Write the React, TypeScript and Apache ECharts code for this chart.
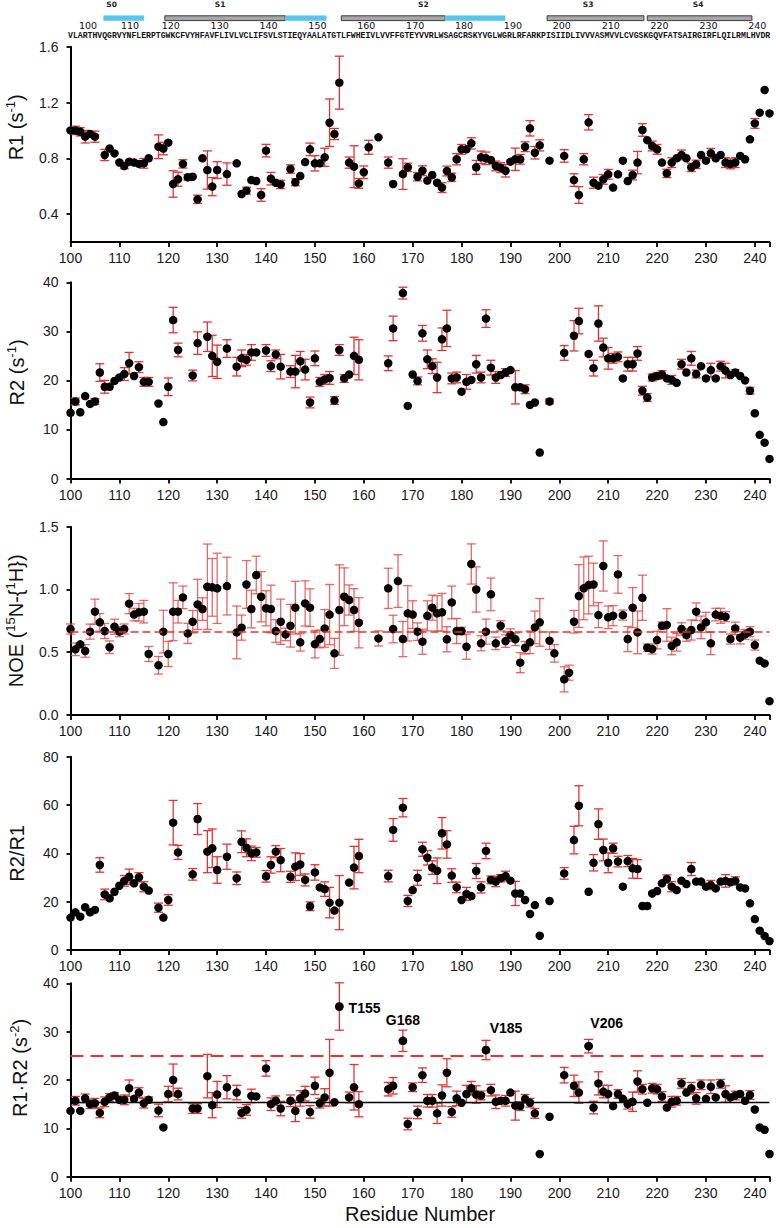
import React, { useEffect, useRef } from 'react';
import * as echarts from 'echarts';

type Pt = [number, number, number]; // [residue, value, error (0 = none)]

const SEQUENCE =
  'VLARTHVQGRVYNFLERPTGWKCFVYHFAVFLIVLVCLIFSVLSTIEQYAALATGTLFWHEIVLVVFFGTEYVVRLWSAGCRSKYVGLWGRLRFARKPISIIDLIVVVASMVVLCVGSKGQVFATSAIRGIRFLQILRMLHVDR';
const SEQ_START = 100;
const X_TICKS = [100, 110, 120, 130, 140, 150, 160, 170, 180, 190, 200, 210, 220, 230, 240];
const SEGMENT_NAMES = ['S0', 'S1', 'S2', 'S3', 'S4'];
const SEGMENT_NAME_RES = [108.4, 130.6, 172.2, 205.9, 228.4];
// [start residue, end residue, kind]
const SEGMENT_PARTS: [number, number, string][] = [
  [106.8, 115.0, 'hl'],
  [119.3, 143.9, 'tm'], [143.9, 152.3, 'hl'],
  [155.4, 176.6, 'tm'], [176.6, 188.9, 'hl'],
  [197.5, 217.3, 'tm'],
  [218.0, 239.4, 'tm'],
];
const LABELED_RESIDUES = [155, 168, 185, 206];
const NOE_REF = 0.66;
const PRODUCT_REF_DASHED = 25;
const PRODUCT_REF_SOLID = 15.3;

const R1: Pt[] = [
  [100,1.00,0],[101,1.00,0.03],[102,0.99,0.03],[103,0.955,0.045],[104,0.975,0],[105,0.955,0.04],
  [107,0.824,0.04],[108,0.87,0],[109,0.835,0],[110,0.77,0],[111,0.745,0.02],[112,0.776,0],[113,0.77,0],
  [114,0.76,0],[115,0.764,0.035],[116,0.80,0],[118,0.883,0.085],[119,0.87,0.045],[120,0.912,0],
  [121,0.616,0.095],[122,0.65,0.05],[123,0.76,0.03],[124,0.664,0.02],[125,0.668,0],[126,0.506,0.03],
  [127,0.80,0],[128,0.716,0.137],[129,0.597,0.065],[130,0.716,0.06],[132,0.687,0.08],[134,0.764,0],
  [135,0.544,0],[136,0.568,0.025],[137,0.644,0],[138,0.637,0],[139,0.537,0.045],[140,0.855,0.045],
  [141,0.654,0.045],[142,0.625,0],[143,0.613,0.03],[145,0.723,0.03],[146,0.628,0.025],[147,0.673,0],
  [148,0.773,0],[149,0.864,0.045],[150,0.764,0.055],[151,0.764,0],[152,0.807,0.065],[153,1.055,0.17],
  [154,0.974,0.04],[155,1.342,0.19],[157,0.769,0.04],[158,0.74,0.15],[159,0.62,0.035],[160,0.70,0.045],
  [161,0.879,0.05],[163,0.95,0],[165,0.769,0.04],[166,0.616,0],[168,0.687,0.11],[169,0.735,0.03],
  [171,0.668,0.03],[172,0.711,0.035],[173,0.64,0],[174,0.68,0],[175,0.625,0],[176,0.59,0.035],
  [177,0.709,0.035],[178,0.664,0.03],[179,0.793,0.04],[180,0.864,0.035],[181,0.864,0],[182,0.907,0.04],
  [183,0.735,0.05],[184,0.807,0.045],[185,0.80,0.045],[186,0.788,0],[187,0.745,0.035],[188,0.733,0.035],
  [189,0.711,0.045],[190,0.776,0],[191,0.793,0.08],[192,0.793,0.035],[193,0.883,0.035],[194,1.015,0.055],
  [195,0.84,0.045],[196,0.893,0.04],[198,0.783,0],[201,0.817,0.045],[203,0.644,0.045],[204,0.537,0.06],
  [205,0.793,0.04],[206,1.058,0.055],[207,0.625,0.04],[208,0.604,0],[209,0.649,0.035],[210,0.685,0.035],
  [211,0.59,0],[212,0.685,0],[213,0.783,0],[214,0.637,0],[215,0.68,0.035],[216,0.769,0.08],
  [217,1.003,0.045],[218,0.93,0],[219,0.888,0.035],[220,0.864,0.035],[221,0.769,0],[222,0.692,0.03],
  [223,0.769,0.035],[224,0.80,0],[225,0.824,0.035],[226,0.80,0],[227,0.735,0.03],[228,0.757,0.03],
  [229,0.824,0],[230,0.783,0],[231,0.836,0.035],[232,0.80,0],[233,0.824,0],[234,0.769,0.035],
  [235,0.76,0.035],[236,0.769,0.035],[237,0.817,0],[238,0.793,0],[239,0.936,0],[240,1.05,0.035],
  [241,1.127,0],[242,1.29,0],[243,1.122,0],
];

const R2: Pt[] = [
  [100,13.4,0],[101,15.7,0.7],[102,13.5,0],[103,16.8,0],[104,15.2,0],[105,15.7,0.6],[106,21.6,1.8],
  [107,18.7,1.3],[108,18.7,0],[109,19.9,0],[110,20.6,0],[111,21.3,1.3],[112,23.5,2.2],[113,20.9,0],
  [114,22.7,1.1],[115,19.7,0.9],[116,19.7,0.9],[118,15.3,0],[119,11.5,0],[120,18.7,1.8],[121,32.3,2.6],
  [122,26.2,1.4],[125,21.0,1.1],[126,27.6,2.3],[128,28.9,3.0],[129,25.0,4.2],[130,23.8,3.4],[132,26.5,1.8],
  [134,22.8,1.9],[135,24.5,1.7],[136,24.2,1.1],[137,25.7,1.6],[138,25.7,0],[140,26.1,1.2],[141,22.9,1.1],
  [142,25.3,0.9],[143,22.8,2.5],[145,21.8,1.2],[146,21.8,3.3],[147,23.9,2.0],[148,22.2,2.1],[149,15.5,1.1],
  [150,24.5,1.5],[151,19.7,0.9],[152,20.2,1.0],[153,20.5,1.3],[154,15.9,0.8],[155,26.2,1.1],[156,20.4,0.8],
  [157,21.2,0],[158,25.0,3.8],[159,24.2,4.1],[165,23.5,1.5],[166,30.6,2.5],[168,37.8,1.2],[169,14.8,0],
  [170,21.2,0],[171,19.9,0.8],[172,29.6,1.6],[173,24.3,1.9],[174,22.9,1.5],[175,20.6,3.1],[176,28.4,2.3],
  [177,30.6,3.7],[178,20.4,1.1],[179,20.6,1.1],[180,17.7,0],[181,19.7,1.5],[182,20.1,0],[183,23.3,1.8],
  [184,20.6,1.1],[185,32.6,1.8],[186,22.6,1.5],[187,20.6,1.2],[188,21.1,0],[189,21.6,0.8],[190,22.1,0],
  [191,18.6,3.4],[192,18.6,0],[193,18.2,0.9],[194,15.0,0],[195,15.5,0],[196,5.3,0],[198,15.7,0.5],
  [201,25.6,1.5],[203,29.1,3.1],[204,32.1,2.6],[206,25.4,0],[207,22.5,1.6],[208,31.6,3.6],[209,26.7,1.9],
  [210,24.5,2.2],[211,24.5,1.0],[212,24.8,1.0],[213,20.4,0],[214,23.3,1.4],[215,23.3,1.4],[216,25.5,1.4],
  [217,17.9,0.9],[218,16.5,0.8],[219,20.6,0.7],[220,20.9,0.7],[221,21.2,0.8],[222,20.4,0],[223,20.1,0.9],
  [224,19.5,0],[225,23.3,1.0],[226,21.6,0],[227,24.5,1.4],[228,21.3,0.8],[229,22.9,0],[230,20.4,0],
  [231,22.1,1.4],[232,20.4,0],[233,22.9,1.0],[234,22.0,1.5],[235,21.1,0],[236,21.6,0.6],[237,20.9,0],
  [238,20.0,0],[239,17.9,0.7],[240,13.3,0],[241,8.9,0],[242,7.3,0],[243,4.0,0],
];

const NOE: Pt[] = [
  [100,0.685,0.04],[101,0.523,0.05],[102,0.563,0],[103,0.51,0.05],[104,0.664,0.06],[105,0.823,0.1],
  [106,0.738,0.07],[107,0.669,0.06],[108,0.54,0.05],[109,0.703,0.06],[110,0.664,0.04],[111,0.685,0.04],
  [112,0.887,0.08],[113,0.80,0.05],[114,0.818,0.07],[115,0.823,0.09],[116,0.486,0.06],[118,0.396,0.07],
  [119,0.664,0.17],[120,0.486,0.1],[121,0.823,0.23],[122,0.823,0.09],[123,0.937,0.09],[124,0.65,0.08],
  [125,0.743,0.09],[126,0.881,0.2],[127,0.844,0.09],[128,1.022,0.34],[129,1.017,0.23],[130,1.009,0.28],
  [132,1.027,0.23],[134,0.658,0.21],[135,0.696,0.1],[136,1.04,0.19],[137,0.844,0.15],[138,1.115,0.15],
  [139,0.942,0.2],[140,0.85,0.14],[141,0.844,0.19],[142,0.669,0.09],[143,0.743,0.18],[144,0.642,0.05],
  [145,0.711,0.17],[146,0.855,0.21],[147,0.579,0.07],[148,0.889,0.18],[149,0.855,0.15],[150,0.565,0.11],
  [151,0.605,0.07],[152,0.69,0.15],[153,0.80,0.24],[154,0.491,0.12],[155,0.836,0.36],[156,0.942,0.23],
  [157,0.916,0.12],[158,0.836,0.17],[159,0.735,0.2],[163,0.61,0.06],[165,1.009,0.16],[166,0.685,0.11],
  [167,1.067,0.21],[168,0.605,0.14],[169,0.81,0.22],[170,0.80,0.11],[171,0.664,0.07],[172,0.584,0.1],
  [173,0.79,0.12],[174,0.855,0.1],[175,0.81,0.14],[176,0.818,0.15],[177,0.603,0.1],[178,0.897,0.13],
  [179,0.669,0.1],[180,0.669,0.03],[181,0.544,0.1],[182,1.203,0.16],[183,1.0,0.18],[184,0.571,0.06],
  [185,0.664,0.1],[186,0.961,0.13],[187,0.571,0.05],[188,0.711,0.04],[189,0.589,0.05],[190,0.637,0.05],
  [191,0.603,0.05],[192,0.417,0.08],[193,0.536,0.05],[194,0.579,0.09],[195,0.698,0.13],[196,0.738,0.19],
  [198,0.592,0.07],[199,0.491,0.07],[201,0.284,0.1],[202,0.337,0.06],[203,0.743,0.09],[204,0.948,0.25],
  [205,1.009,0.25],[206,1.035,0.23],[207,1.04,0.17],[208,0.796,0.1],[209,1.187,0.2],[210,0.778,0.09],
  [211,0.791,0.08],[212,1.12,0.15],[213,0.796,0.04],[214,0.605,0.1],[215,0.855,0.16],[216,0.658,0.17],
  [217,0.934,0.18],[218,0.536,0.03],[219,0.526,0.04],[220,0.597,0.07],[221,0.711,0.03],[222,0.717,0.13],
  [223,0.55,0.07],[224,0.579,0.07],[225,0.685,0.05],[226,0.637,0.05],[227,0.677,0.08],[228,0.823,0.07],
  [229,0.698,0.09],[230,0.738,0.08],[231,0.571,0.09],[232,0.80,0.05],[233,0.79,0.06],[234,0.783,0.04],
  [235,0.605,0.04],[236,0.69,0.05],[237,0.616,0.05],[238,0.642,0.04],[239,0.664,0.04],[240,0.557,0.04],
  [241,0.433,0],[242,0.411,0],[243,0.11,0],
];

const RATIO: Pt[] = [
  [100,13.4,0],[101,15.6,0],[102,13.8,0],[103,17.7,0],[104,15.6,0],[105,16.6,0],[106,35.2,3.0],
  [107,23.0,2.2],[108,21.4,0],[109,24.1,0],[110,26.6,0],[111,28.6,2.2],[112,30.3,3.2],[113,27.6,0],
  [114,30.1,1.9],[115,26.2,2.1],[116,24.6,0],[118,17.5,1.9],[119,13.4,0],[120,20.7,2.2],[121,52.7,9.2],
  [122,40.4,2.9],[125,31.3,2.4],[126,54.2,6.4],[128,40.7,8.7],[129,42.1,8.0],[130,33.1,5.5],[132,38.6,5.2],
  [134,29.7,2.6],[135,44.8,4.5],[136,42.3,3.7],[137,40.0,3.0],[138,40.4,2.0],[140,30.5,2.4],[141,35.2,3.4],
  [142,40.7,2.5],[143,37.2,4.8],[145,30.3,2.3],[146,34.5,5.7],[147,35.4,4.5],[148,29.0,2.5],[149,18.1,1.8],
  [150,32.1,3.2],[151,25.9,0],[152,25.2,3.0],[153,19.6,6.3],[154,16.3,0],[155,19.6,11.2],[157,27.9,0],
  [158,34.1,8.8],[159,38.9,6.9],[165,30.6,2.4],[166,49.7,4.7],[168,58.9,3.8],[169,20.3,2.3],[170,24.8,0],
  [171,29.9,3.1],[172,41.7,2.9],[173,38.2,3.0],[174,34.1,2.8],[175,32.8,5.3],[176,48.3,6.5],[177,43.7,5.7],
  [178,30.8,2.8],[179,25.9,2.2],[180,20.7,0],[181,23.2,2.7],[182,22.3,0],[183,32.7,3.1],[184,25.9,2.3],
  [185,41.0,3.2],[186,29.0,1.6],[187,28.3,2.1],[188,29.7,1.5],[189,30.6,2.0],[190,28.7,0],[191,23.4,5.0],
  [192,23.4,0],[193,20.7,0],[194,14.9,0],[195,18.6,0],[196,5.9,0],[198,20.3,0],[201,31.7,2.4],
  [203,45.5,5.7],[204,59.7,8.3],[206,24.1,0],[207,36.1,3.4],[208,52.1,6.3],[209,41.4,4.5],[210,36.1,4.1],
  [211,42.1,2.1],[212,36.6,2.2],[213,26.2,0],[214,36.8,2.3],[215,33.8,4.1],[216,33.5,3.9],[217,18.2,0],
  [218,18.2,0],[219,23.4,0],[220,24.4,0],[221,27.6,0],[222,29.4,1.7],[223,26.2,2.1],[224,24.8,0],
  [225,28.7,0],[226,27.3,0],[227,33.5,2.7],[228,28.3,0],[229,28.3,0],[230,26.2,0],[231,26.9,1.9],
  [232,25.5,0],[233,28.3,0],[234,28.6,2.6],[235,28.0,0],[236,28.6,1.7],[237,25.9,0],[238,25.5,0],
  [239,19.3,0],[240,12.8,0],[241,8.0,0],[242,5.8,0],[243,3.7,0],
];

const PRODUCT: Pt[] = [
  [100,13.6,0],[101,15.7,0.9],[102,13.6,0],[103,16.2,0.9],[104,15.0,0.9],[105,15.2,1.0],[106,13.2,1.0],
  [107,15.5,1.0],[108,16.4,0.8],[109,16.8,0.6],[110,15.9,0],[111,15.9,1.0],[112,18.3,1.7],[113,16.1,0],
  [114,17.4,1.0],[115,15.2,1.0],[116,15.9,0.6],[118,13.7,1.3],[119,10.2,0],[120,17.1,1.6],[121,20.0,3.3],
  [122,17.1,1.2],[125,14.1,1.0],[126,14.1,1.0],[128,20.8,4.5],[129,14.8,2.6],[130,17.0,2.7],[132,18.5,2.4],
  [134,17.4,1.5],[135,13.2,1.1],[136,13.8,1.1],[137,16.7,1.4],[138,16.6,0],[140,22.4,1.6],[141,15.0,1.3],
  [142,15.7,1.0],[143,14.1,1.5],[145,15.7,1.2],[146,13.6,2.2],[147,16.2,1.6],[148,17.2,1.5],[149,13.4,1.3],
  [150,18.8,1.8],[151,15.2,1.0],[152,16.4,1.8],[153,21.5,6.9],[154,15.4,0],[155,35.2,4.9],[157,16.4,1.1],
  [158,18.5,4.7],[159,15.0,2.6],[165,18.1,1.4],[166,18.8,1.7],[168,28.1,2.2],[169,10.9,1.2],[170,18.5,0.9],
  [171,13.3,1.3],[172,21.0,1.5],[173,15.7,1.3],[174,15.7,1.3],[175,13.1,2.1],[176,16.8,2.2],[177,21.5,2.9],
  [178,13.4,1.1],[179,16.2,1.5],[180,15.3,0],[181,17.1,1.8],[182,18.3,1.4],[183,17.0,1.8],[184,16.8,0.9],
  [185,26.2,2.0],[186,17.9,1.2],[187,15.5,1.4],[188,15.7,0],[189,15.7,1.1],[190,17.4,0],[191,14.7,3.0],
  [192,14.6,0.9],[193,16.1,0.9],[194,15.3,0.9],[195,13.1,1.0],[196,4.7,0],[198,12.4,0],[201,21.0,1.6],
  [203,18.8,2.2],[204,17.4,2.2],[206,27.0,1.4],[207,14.3,1.3],[208,19.3,2.4],[209,17.6,1.3],[210,17.1,1.8],
  [211,14.6,0],[212,17.1,0.9],[213,16.1,0],[214,15.0,1.0],[215,15.5,2.0],[216,19.7,2.2],[217,18.1,1.0],
  [218,15.3,0],[219,18.3,1.0],[220,18.1,1.0],[221,16.6,1.0],[222,14.3,0],[223,15.5,1.1],[224,15.7,0.9],
  [225,19.3,1.0],[226,17.4,0],[227,18.3,1.2],[228,16.2,1.2],[229,19.0,1.0],[230,16.1,0],[231,18.6,1.4],
  [232,16.4,0],[233,19.2,0.9],[234,17.1,1.7],[235,16.4,0],[236,16.8,0.9],[237,17.1,0],[238,15.7,0],
  [239,16.9,0.9],[240,13.9,0],[241,10.2,0],[242,9.7,0],[243,4.7,0],
];

// ---------------- layout ----------------
const W = 776;
const H = 1228;
const GRID_LEFT = 70.5;
const GRID_WIDTH = 699;
const X_MIN = 100;
const X_MAX = 243;
const PX_PER_RES = GRID_WIDTH / (X_MAX - X_MIN);
const resX = (r: number) => GRID_LEFT + (r - X_MIN) * PX_PER_RES;

const FONT = '"Liberation Sans", Arial, Helvetica, sans-serif';
const RED = '#e3342f';
const PANELS = [
  { top: 46.7, height: 195.3 },
  { top: 282.3, height: 196.2 },
  { top: 526.7, height: 188.3 },
  { top: 756.7, height: 193.3 },
  { top: 983.3, height: 193.4 },
];

const supRich = {
  sup: { fontSize: 13, fontFamily: FONT, color: '#111', verticalAlign: 'top', lineHeight: 15 },
};

function errSeries(data: Pt[], axis: number, color: string, opacity: number) {
  return {
    type: 'custom',
    xAxisIndex: axis,
    yAxisIndex: axis,
    silent: true,
    z: 2,
    clip: false,
    data: data.filter((d) => d[2] > 0),
    encode: { x: 0, y: 1 },
    renderItem: (_params: any, api: any) => {
      const x = api.value(0);
      const y = api.value(1);
      const e = api.value(2);
      const hi = api.coord([x, y + e]);
      const lo = api.coord([x, y - e]);
      const hw = 4.5;
      const st = { stroke: color, lineWidth: 1.3, opacity };
      return {
        type: 'group',
        children: [
          { type: 'line', shape: { x1: hi[0], y1: hi[1], x2: lo[0], y2: lo[1] }, style: st },
          { type: 'line', shape: { x1: hi[0] - hw, y1: hi[1], x2: hi[0] + hw, y2: hi[1] }, style: st },
          { type: 'line', shape: { x1: lo[0] - hw, y1: lo[1], x2: lo[0] + hw, y2: lo[1] }, style: st },
        ],
      };
    },
  };
}

function pointSeries(data: Pt[], axis: number, extra: any = {}) {
  return {
    type: 'scatter',
    xAxisIndex: axis,
    yAxisIndex: axis,
    symbol: 'circle',
    symbolSize: 8.5,
    itemStyle: { color: '#000', opacity: 1 },
    silent: true,
    clip: false,
    z: 3,
    data: data.map((d) => [d[0], d[1]]),
    ...extra,
  };
}

const LABEL_LAYOUT: Record<number, any> = {
  155: { position: 'right', distance: 5, offset: [0, 1.5] },
  168: { position: 'top', distance: 10, offset: [0, 0] },
  185: { position: 'top', distance: 5, offset: [20, -6] },
  206: { position: 'top', distance: 5, offset: [18, -7] },
};

function buildOption() {
  const grid = PANELS.map((p) => ({
    left: GRID_LEFT,
    width: GRID_WIDTH,
    top: p.top,
    height: p.height,
    containLabel: false,
    outerBoundsMode: 'none',
  }));

  const axisLine = { show: true, onZero: false, lineStyle: { color: '#000', width: 2 } };
  const axisTickBase = { show: true, inside: false, length: 4, lineStyle: { color: '#000', width: 1.8 } };
  const labelBase = { color: '#1a1a1a', fontSize: 14, fontFamily: FONT };

  const xAxis = PANELS.map((_, i) => ({
    type: 'value',
    gridIndex: i,
    min: X_MIN,
    max: X_MAX,
    interval: 10,
    axisLine,
    axisTick: { ...axisTickBase, length: 5 },
    axisLabel: { ...labelBase, margin: 9, customValues: X_TICKS },
    splitLine: { show: false },
    name: i === 4 ? 'Residue Number' : '',
    nameLocation: 'middle',
    nameGap: 27,
    nameTextStyle: { fontSize: 20, fontFamily: FONT, color: '#111' },
  }));

  const nameStyle = (padLeft: number) => ({
    fontSize: 20,
    fontFamily: FONT,
    color: '#111',
    lineHeight: 24,
    padding: [0, 0, 0, padLeft],
    rich: supRich,
  });

  const yBase = (i: number) => ({
    type: 'value',
    gridIndex: i,
    axisLine,
    axisTick: axisTickBase,
    splitLine: { show: false },
    nameLocation: 'middle',
    nameRotate: 90,
  });

  const yAxis = [
    {
      ...yBase(0),
      min: 0.2,
      max: 1.6,
      axisTick: { ...axisTickBase, customValues: [0.4, 0.8, 1.2, 1.6] },
      axisLabel: { ...labelBase, margin: 12, customValues: [0.4, 0.8, 1.2, 1.6], formatter: (v: number) => v.toFixed(1) },
      name: 'R1 (s{sup|-1})',
      nameGap: 42,
      nameTextStyle: nameStyle(34),
    },
    {
      ...yBase(1),
      min: 0,
      max: 40,
      interval: 10,
      axisLabel: { ...labelBase, margin: 12 },
      name: 'R2 (s{sup|-1})',
      nameGap: 42,
      nameTextStyle: nameStyle(16),
    },
    {
      ...yBase(2),
      min: 0,
      max: 1.5,
      interval: 0.5,
      axisLabel: { ...labelBase, margin: 12, formatter: (v: number) => v.toFixed(1) },
      name: 'NOE ({sup|15}N-{{sup|1}H})',
      nameGap: 42,
      nameTextStyle: nameStyle(0),
    },
    {
      ...yBase(3),
      min: 0,
      max: 80,
      interval: 20,
      axisLabel: { ...labelBase, margin: 12 },
      name: 'R2/R1',
      nameGap: 42,
      nameTextStyle: nameStyle(0),
    },
    {
      ...yBase(4),
      min: 0,
      max: 40,
      interval: 10,
      axisLabel: { ...labelBase, margin: 12 },
      name: 'R1\u00B7R2 (s{sup|-2})',
      nameGap: 37,
      nameTextStyle: nameStyle(24),
    },
  ];

  const labeled = PRODUCT.filter((d) => LABELED_RESIDUES.includes(d[0])).map((d) => ({
    value: [d[0], d[1]],
    label: {
      show: true,
      formatter: SEQUENCE[d[0] - SEQ_START] + d[0],
      fontSize: 14,
      fontWeight: 'bold',
      fontFamily: FONT,
      color: '#000',
      opacity: 1,
      textBorderWidth: 0,
      ...LABEL_LAYOUT[d[0]],
    },
  }));

  const series: any[] = [
    errSeries(R1, 0, RED, 1),
    pointSeries(R1, 0),
    errSeries(R2, 1, RED, 1),
    pointSeries(R2, 1),
    errSeries(NOE, 2, '#e5433d', 0.8),
    pointSeries(NOE, 2, {
      markLine: {
        silent: true,
        symbol: 'none',
        label: { show: false },
        lineStyle: { color: RED, width: 1.5, type: [8, 4] },
        data: [{ yAxis: NOE_REF }],
      },
    }),
    errSeries(RATIO, 3, RED, 1),
    pointSeries(RATIO, 3),
    errSeries(PRODUCT, 4, RED, 1),
    pointSeries(PRODUCT, 4, {
      markLine: {
        silent: true,
        symbol: 'none',
        label: { show: false },
        data: [
          { yAxis: PRODUCT_REF_DASHED, lineStyle: { color: RED, width: 1.8, type: [13, 7] } },
          { yAxis: PRODUCT_REF_SOLID, lineStyle: { color: '#000', width: 1.3, type: 'solid' } },
        ],
      },
    }),
    {
      type: 'scatter',
      xAxisIndex: 4,
      yAxisIndex: 4,
      symbol: 'circle',
      symbolSize: 8.5,
      itemStyle: { color: '#000' },
      silent: true,
      clip: false,
      z: 4,
      data: labeled,
    },
  ];

  // top annotation: segments, residue numbers, sequence
  const graphic: any[] = [];
  SEGMENT_PARTS.forEach(([a, b, kind]) => {
    graphic.push({
      type: 'rect',
      shape: { x: resX(a), y: 15.8, width: resX(b) - resX(a), height: 4.8 },
      style:
        kind === 'hl'
          ? { fill: '#5cc4ea', stroke: '#5cc4ea', lineWidth: 0.6 }
          : { fill: '#a8a8a8', stroke: '#3c3c3c', lineWidth: 1 },
      silent: true,
    });
  });
  SEGMENT_NAMES.forEach((name, i) => {
    graphic.push({
      type: 'text',
      x: resX(SEGMENT_NAME_RES[i]),
      y: 4,
      style: {
        text: name,
        fontSize: 7.5,
        fontWeight: 'bold',
        fontFamily: '"DejaVu Sans", sans-serif',
        fill: '#222',
        align: 'center',
        verticalAlign: 'middle',
      },
      silent: true,
    });
  });
  X_TICKS.forEach((t) => {
    const shift = t === 100 ? 17.5 : t === 110 ? 10.6 : 2.5;
    graphic.push({
      type: 'text',
      x: resX(t) + shift,
      y: 25.5,
      style: {
        text: String(t),
        fontSize: 9.5,
        fontFamily: '"DejaVu Sans", sans-serif',
        fill: '#111',
        align: 'center',
        verticalAlign: 'middle',
      },
      silent: true,
    });
  });
  const charW = PX_PER_RES;
  graphic.push({
    type: 'text',
    x: resX(SEQ_START) - charW / 2,
    y: 35.5,
    style: {
      text: SEQUENCE,
      fontSize: charW / 0.6,
      fontWeight: 'bold',
      fontFamily: '"Liberation Mono", "DejaVu Sans Mono", monospace',
      fill: '#111',
      align: 'left',
      verticalAlign: 'middle',
    },
    silent: true,
  });

  return {
    animation: false,
    backgroundColor: '#ffffff',
    grid,
    xAxis,
    yAxis,
    series,
    graphic,
  };
}

export default function App() {
  const ref = useRef<HTMLDivElement>(null);
  useEffect(() => {
    if (!ref.current) return;
    const chart = echarts.init(ref.current, null, { renderer: 'svg' });
    chart.setOption(buildOption() as any);
    return () => chart.dispose();
  }, []);
  return (
    <div
      ref={ref}
      style={{ position: 'fixed', left: 0, top: 0, width: W, height: H, background: '#fff' }}
    />
  );
}
